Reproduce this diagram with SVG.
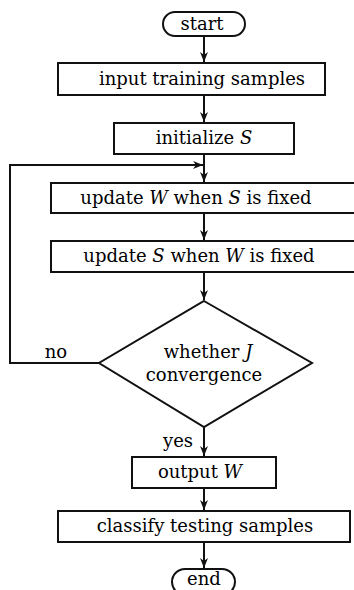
<svg xmlns="http://www.w3.org/2000/svg" width="354" height="590" viewBox="0 0 354 590">
<style>
.b{fill:#fff;stroke:#111;stroke-width:2}
.t{font-family:"DejaVu Serif","Liberation Serif",serif;font-size:18px;fill:#000;text-anchor:middle}
.i{font-style:italic}
.c{fill:none;stroke:#111;stroke-width:2}
</style>
<defs>
<marker id="a" viewBox="0 0 10 10" refX="10" refY="5" markerWidth="10" markerHeight="10" markerUnits="userSpaceOnUse" orient="auto">
<path d="M0,1 L10,5 L0,9 L3,5 Z" fill="#111"/>
</marker>
</defs>
<rect width="354" height="590" fill="#fff"/>
<g id="connectors">
<line class="c" x1="204" y1="36" x2="204" y2="62" marker-end="url(#a)"/>
<line class="c" x1="204" y1="95" x2="204" y2="122" marker-end="url(#a)"/>
<line class="c" x1="204" y1="154" x2="204" y2="182" marker-end="url(#a)"/>
<line class="c" x1="204" y1="213" x2="204" y2="240" marker-end="url(#a)"/>
<line class="c" x1="204" y1="272" x2="204" y2="300" marker-end="url(#a)"/>
<polyline class="c" points="99,363 10,363 10,165 203,165" marker-end="url(#a)"/>
<line class="c" x1="204" y1="427" x2="204" y2="456" marker-end="url(#a)"/>
<line class="c" x1="204" y1="488" x2="204" y2="510" marker-end="url(#a)"/>
<line class="c" x1="204" y1="542" x2="204" y2="568" marker-end="url(#a)"/>
<text class="t" x="56" y="358">no</text>
<text class="t" x="178" y="447">yes</text>
</g>
<g id="start">
<rect class="b" x="163" y="12" width="82" height="24" rx="12"/>
<text class="t" x="202" y="30">start</text>
</g>
<g id="input">
<rect class="b" x="58" y="63" width="267" height="32"/>
<text class="t" x="202" y="85">input training samples</text>
</g>
<g id="init">
<rect class="b" x="114" y="123" width="180" height="31"/>
<text class="t" x="204" y="144">initialize <tspan class="i">S</tspan></text>
</g>
<g id="updW">
<rect class="b" x="51" y="183" width="310" height="30"/>
<text class="t" x="196" y="204">update <tspan class="i">W</tspan> when <tspan class="i">S</tspan> is fixed</text>
</g>
<g id="updS">
<rect class="b" x="51" y="241" width="310" height="31"/>
<text class="t" x="199" y="262">update <tspan class="i">S</tspan> when <tspan class="i">W</tspan> is fixed</text>
</g>
<g id="decide">
<polygon class="b" points="204,301 312,363 204,427 99,363"/>
<text class="t" x="208" y="358">whether <tspan class="i">J</tspan></text>
<text class="t" x="204" y="381">convergence</text>
</g>
<g id="output">
<rect class="b" x="132" y="457" width="144" height="31"/>
<text class="t" x="200" y="478">output <tspan class="i">W</tspan></text>
</g>
<g id="classify">
<rect class="b" x="58" y="511" width="292" height="31"/>
<text class="t" x="205" y="532">classify testing samples</text>
</g>
<g id="end">
<rect class="b" x="172" y="569" width="63" height="26" rx="13"/>
<text class="t" x="204" y="585" font-size="17">end</text>
</g>
</svg>
